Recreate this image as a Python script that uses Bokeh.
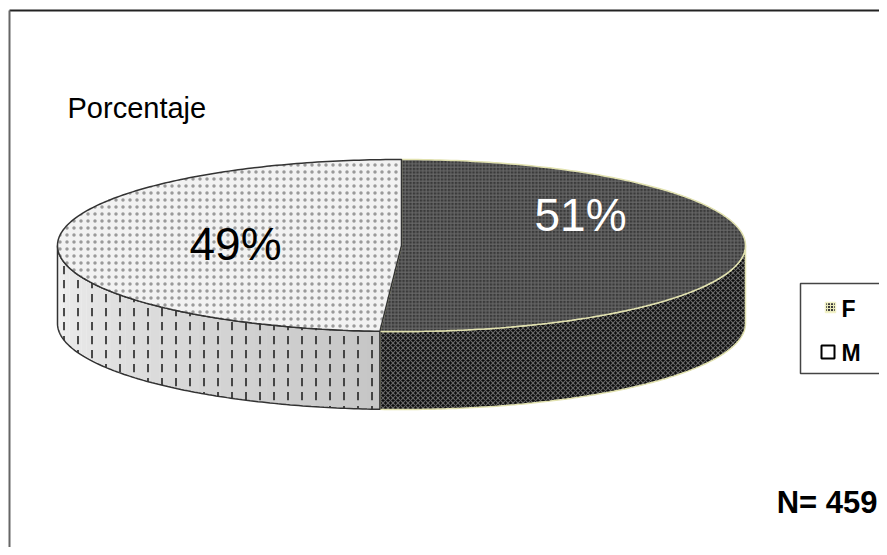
import numpy as np
from bokeh.plotting import figure
from bokeh.models import Range1d, Label
from bokeh.embed import file_html
from bokeh.resources import INLINE

# ---- data ----
categories = ["F", "M"]
percent = [51, 49]
pct_labels = ["51%", "49%"]
n_total = 459
title_text = "Porcentaje"

# ---- layout constants (pixels) ----
W, H = 879, 547
CX, CY, A, B, DEPTH = 401, 245, 344, 86, 78

p = figure(width=W, height=H, x_range=Range1d(0, W), y_range=Range1d(H, 0),
           output_backend="svg", toolbar_location=None, min_border=0)
p.axis.visible = False
p.grid.visible = False
p.outline_line_color = None
p.background_fill_color = "white"
p.border_fill_color = "white"

# frame lines (top and left visible)
p.segment(x0=[9, 9], y0=[10, 10], x1=[W + 5, 9], y1=[10, H + 5],
          line_color=["#222222", "#666666"], line_width=[2, 2])

fr = np.array(percent, dtype=float) / sum(percent)
bounds = np.concatenate([[0.0], np.cumsum(fr)]) * 2 * np.pi

def ex(t):
    return CX + A * np.sin(t)

def ey(t, off=0.0):
    return CY - B * np.cos(t) + off

top_style = {
    "F": dict(fill_color="#3a3a3a", hatch_pattern="cross", hatch_color="#6a6a6a",
              hatch_scale=3.5, hatch_weight=1, line_color="#e2e2b0", line_width=1.5),
    "M": dict(fill_color="#f2f2f2", hatch_pattern="dot", hatch_color="#9a9a9a",
              hatch_scale=7, hatch_weight=1, line_color="#333333", line_width=1.5),
}
side_style = {
    "F": dict(fill_color="#0c0c0c", hatch_pattern="diagonal_cross", hatch_color="#666666",
              hatch_scale=5, hatch_weight=1.2, line_color="#e2e2b0", line_width=1.5),
    "M": dict(fill_color=None, hatch_pattern="vertical_dash", hatch_color="#222222",
              hatch_scale=14, hatch_weight=1.6, line_color="#333333", line_width=1.5),
}
side_shade = {"M": ((0xc6, 0xc6, 0xc6), (0xf2, 0xf2, 0xf2))}  # front -> left edge

# sides
for i, c in enumerate(categories):
    lo = max(bounds[i], np.pi / 2)
    hi = min(bounds[i + 1], 3 * np.pi / 2)
    if lo < hi:
        if c in side_shade:
            c0, c1 = side_shade[c]
            edges = np.linspace(lo, hi, 41)
            for k in range(40):
                f = (k + 0.5) / 40
                col = "#%02x%02x%02x" % tuple(int(c0[j] + (c1[j] - c0[j]) * f) for j in range(3))
                ts = np.linspace(edges[k], edges[k + 1] + 0.002, 6)
                p.patch(np.concatenate([ex(ts), ex(ts[::-1])]),
                        np.concatenate([ey(ts), ey(ts[::-1], DEPTH)]),
                        fill_color=col, line_color=None)
        t = np.linspace(lo, hi, 120)
        xs = np.concatenate([ex(t), ex(t[::-1])])
        ys = np.concatenate([ey(t), ey(t[::-1], DEPTH)])
        p.patch(xs, ys, **side_style[c])

# tops
for i, c in enumerate(categories):
    t = np.linspace(bounds[i], bounds[i + 1], 200)
    xs = np.concatenate([[CX], ex(t)])
    ys = np.concatenate([[CY], ey(t)])
    p.patch(xs, ys, **top_style[c])

# percentage labels
lab_pos = {"F": (580, 214), "M": (235, 243)}
lab_col = {"F": "white", "M": "black"}
for c, txt in zip(categories, pct_labels):
    x, y = lab_pos[c]
    p.add_layout(Label(x=x, y=y, text=txt, text_align="center", text_baseline="middle",
                       text_font="Liberation Sans", text_font_size="46px",
                       text_color=lab_col[c]))

p.add_layout(Label(x=67, y=91, text=title_text, text_align="left", text_baseline="top",
                   text_font="Liberation Sans", text_font_size="29px", text_color="black"))

p.add_layout(Label(x=877, y=502, text=f"N= {n_total}", text_align="right",
                   text_baseline="middle", text_font="Liberation Sans",
                   text_font_size="31px", text_font_style="bold", text_color="black"))

# ---- legend (drawn by hand to match the boxed key) ----
p.quad(left=[800], right=[880], top=[283], bottom=[373],
       fill_color="white", line_color="#444444", line_width=1.5)
sw = {"F": dict(left=825, right=835, top=302, bottom=312),
      "M": dict(left=821, right=834, top=345, bottom=358)}
p.quad(left=[sw["F"]["left"]], right=[sw["F"]["right"]], top=[sw["F"]["top"]],
       bottom=[sw["F"]["bottom"]], fill_color="#3a3a3a", hatch_pattern="cross",
       hatch_color="#e8e8b8", hatch_scale=3, line_color="#f2f2c8", line_width=1.5)
p.quad(left=[sw["M"]["left"]], right=[sw["M"]["right"]], top=[sw["M"]["top"]],
       bottom=[sw["M"]["bottom"]], fill_color="white", line_color="black", line_width=2)
leg_y = {"F": 308, "M": 352}
for c in categories:
    p.add_layout(Label(x=841, y=leg_y[c], text=c, text_align="left", text_baseline="middle",
                       text_font="Liberation Sans", text_font_size="23px",
                       text_font_style="bold", text_color="black"))

open("out.html", "w").write(file_html(p, INLINE))
